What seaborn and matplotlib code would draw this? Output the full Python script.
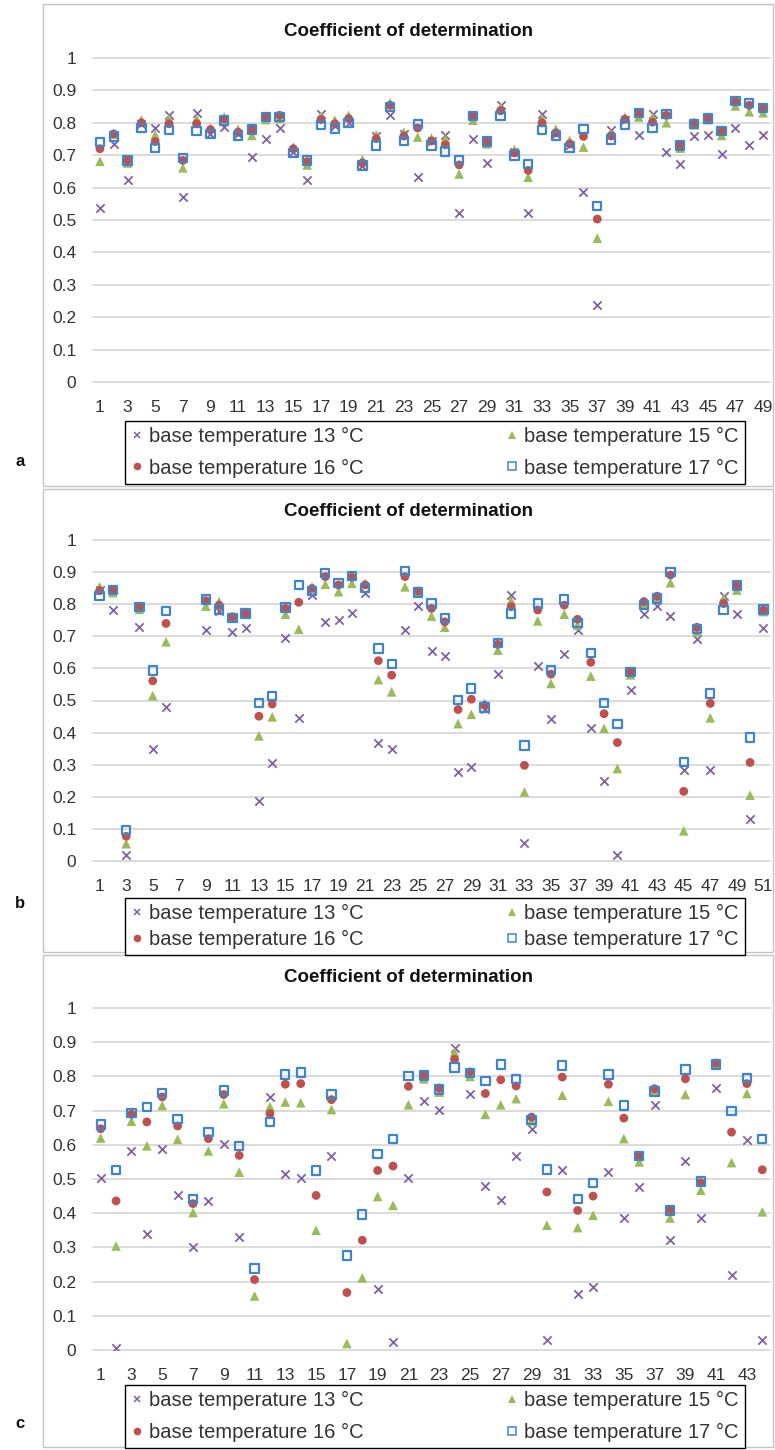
import numpy as np
import pandas as pd
import matplotlib
matplotlib.use("Agg")
import matplotlib.pyplot as plt
import seaborn as sns
from matplotlib.patches import Rectangle
from matplotlib.lines import Line2D
from matplotlib.markers import MarkerStyle

nan = np.nan

# ---------------- data (coefficient of determination) ----------------
series_labels = ["base temperature 13 °C", "base temperature 15 °C",
                 "base temperature 16 °C", "base temperature 17 °C"]

# panel a (49 categories)
a_bt13 = [0.537, 0.735, 0.623, 0.795, 0.785, 0.823, 0.572, 0.831, 0.765, 0.787,
          0.766, 0.694, 0.749, 0.784, 0.710, 0.625, 0.828, 0.790, 0.800, 0.668,
          0.759, 0.823, 0.765, 0.632, 0.745, 0.763, 0.523, 0.751, 0.676, 0.856,
          0.710, 0.521, 0.828, 0.765, 0.730, 0.585, 0.239, 0.777, 0.810, 0.761,
          0.828, 0.711, 0.673, 0.759, 0.761, 0.704, 0.784, 0.732, 0.761]
a_bt15 = [0.681, 0.765, 0.676, 0.809, 0.763, 0.813, 0.661, 0.813, 0.784, 0.818,
          0.780, 0.761, 0.810, 0.813, 0.725, 0.670, 0.821, 0.808, 0.823, 0.687,
          0.763, 0.862, 0.771, 0.756, 0.753, 0.751, 0.642, 0.808, 0.735, 0.849,
          0.718, 0.632, 0.813, 0.780, 0.746, 0.725, 0.444, 0.766, 0.818, 0.818,
          0.818, 0.800, 0.722, 0.794, 0.810, 0.761, 0.852, 0.834, 0.831]
a_bt16 = [0.720, 0.766, 0.684, 0.800, 0.742, 0.797, 0.684, 0.797, 0.779, 0.811,
          0.771, 0.779, 0.820, 0.823, 0.720, 0.680, 0.810, 0.797, 0.813, 0.676,
          0.751, 0.854, 0.759, 0.784, 0.744, 0.732, 0.670, 0.821, 0.742, 0.837,
          0.707, 0.653, 0.800, 0.769, 0.735, 0.758, 0.503, 0.759, 0.811, 0.830,
          0.802, 0.823, 0.730, 0.800, 0.815, 0.774, 0.865, 0.854, 0.844]
a_bt17 = [0.741, 0.758, 0.684, 0.784, 0.722, 0.778, 0.692, 0.775, 0.766, 0.807,
          0.759, 0.779, 0.818, 0.818, 0.707, 0.684, 0.794, 0.782, 0.800, 0.668,
          0.730, 0.849, 0.744, 0.797, 0.730, 0.711, 0.686, 0.821, 0.742, 0.820,
          0.699, 0.673, 0.777, 0.759, 0.722, 0.780, 0.544, 0.748, 0.795, 0.831,
          0.784, 0.828, 0.730, 0.797, 0.813, 0.774, 0.867, 0.862, 0.846]

# panel b (51 categories, 7 and 8 without values)
b_bt13 = [0.845, 0.782, 0.018, 0.730, 0.348, 0.480, nan, nan, 0.721, 0.780,
          0.714, 0.725, 0.186, 0.304, 0.695, 0.446, 0.828, 0.745, 0.751, 0.774,
          0.834, 0.368, 0.350, 0.719, 0.795, 0.654, 0.639, 0.278, 0.293, 0.475,
          0.584, 0.828, 0.056, 0.608, 0.441, 0.644, 0.719, 0.415, 0.249, 0.018,
          0.534, 0.771, 0.794, 0.763, 0.285, 0.693, 0.283, 0.826, 0.768, 0.132,
          0.725]
b_bt15 = [0.854, 0.836, 0.054, 0.784, 0.515, 0.683, nan, nan, 0.794, 0.808,
          0.760, 0.770, 0.390, 0.449, 0.769, 0.722, 0.854, 0.862, 0.839, 0.865,
          0.865, 0.565, 0.527, 0.854, 0.839, 0.763, 0.728, 0.428, 0.457, 0.491,
          0.657, 0.811, 0.215, 0.748, 0.553, 0.769, 0.735, 0.576, 0.413, 0.288,
          0.580, 0.800, 0.815, 0.867, 0.094, 0.714, 0.446, 0.818, 0.844, 0.205,
          0.777]
b_bt16 = [0.842, 0.844, 0.077, 0.792, 0.561, 0.740, nan, nan, 0.811, 0.797,
          0.761, 0.771, 0.451, 0.489, 0.787, 0.806, 0.849, 0.886, 0.860, 0.884,
          0.860, 0.624, 0.579, 0.886, 0.841, 0.787, 0.745, 0.472, 0.504, 0.485,
          0.675, 0.792, 0.298, 0.782, 0.582, 0.797, 0.753, 0.619, 0.459, 0.369,
          0.589, 0.808, 0.825, 0.891, 0.217, 0.728, 0.491, 0.802, 0.858, 0.307,
          0.782]
b_bt17 = [0.825, 0.844, 0.096, 0.792, 0.593, 0.779, nan, nan, 0.815, 0.784,
          0.758, 0.771, 0.493, 0.515, 0.790, 0.860, 0.841, 0.898, 0.867, 0.888,
          0.851, 0.662, 0.613, 0.903, 0.836, 0.802, 0.758, 0.501, 0.537, 0.478,
          0.680, 0.771, 0.360, 0.802, 0.595, 0.815, 0.742, 0.647, 0.493, 0.426,
          0.589, 0.797, 0.818, 0.901, 0.309, 0.722, 0.522, 0.782, 0.858, 0.385,
          0.784]

# panel c (44 categories)
c_bt13 = [0.503, 0.007, 0.583, 0.340, 0.589, 0.452, 0.301, 0.435, 0.601, 0.330,
          nan, 0.740, 0.516, 0.503, nan, 0.567, nan, nan, 0.179, 0.023,
          0.504, 0.727, 0.703, 0.883, 0.750, 0.479, 0.440, 0.567, 0.647, 0.028,
          0.525, 0.165, 0.184, 0.520, 0.386, 0.477, 0.715, 0.323, 0.552, 0.386,
          0.766, 0.218, 0.615, 0.028]
c_bt15 = [0.620, 0.304, 0.669, 0.597, 0.715, 0.616, 0.402, 0.582, 0.720, 0.520,
          0.158, 0.712, 0.725, 0.723, 0.350, 0.703, 0.019, 0.211, 0.449, 0.423,
          0.717, 0.793, 0.754, 0.871, 0.800, 0.689, 0.717, 0.735, 0.670, 0.365,
          0.745, 0.358, 0.394, 0.727, 0.618, 0.550, 0.760, 0.386, 0.747, 0.467,
          0.835, 0.548, 0.750, 0.404]
c_bt16 = [0.647, 0.436, 0.689, 0.667, 0.740, 0.655, 0.428, 0.618, 0.747, 0.569,
          0.206, 0.691, 0.777, 0.779, 0.452, 0.732, 0.168, 0.321, 0.525, 0.538,
          0.771, 0.803, 0.766, 0.850, 0.813, 0.750, 0.790, 0.772, 0.681, 0.462,
          0.798, 0.408, 0.450, 0.777, 0.678, 0.567, 0.764, 0.408, 0.793, 0.489,
          0.839, 0.637, 0.779, 0.527]
c_bt17 = [0.659, 0.527, 0.693, 0.711, 0.752, 0.676, 0.441, 0.637, 0.759, 0.597,
          0.238, 0.667, 0.806, 0.811, 0.525, 0.747, 0.276, 0.396, 0.574, 0.616,
          0.801, 0.803, 0.762, 0.826, 0.810, 0.787, 0.835, 0.793, 0.673, 0.528,
          0.832, 0.442, 0.488, 0.806, 0.715, 0.567, 0.756, 0.408, 0.820, 0.493,
          0.835, 0.698, 0.795, 0.616]

y_ticks = [0, 0.1, 0.2, 0.3, 0.4, 0.5, 0.6, 0.7, 0.8, 0.9, 1]
y_tick_labels = ["0", "0.1", "0.2", "0.3", "0.4", "0.5", "0.6", "0.7", "0.8", "0.9", "1"]
title_text = "Coefficient of determination"

# ---------------- style ----------------
sns.set_theme(style="white")
plt.rcParams["font.family"] = ["Liberation Sans", "DejaVu Sans"]

C13, C15, C16, C17 = "#7d62a8", "#9bbb59", "#c0504d", "#3b86cf"
TXT = "#333333"
FS = 12.5
LEG_FS = 14.5

W, H = 775, 1450
fig = plt.figure(figsize=(W / 100, H / 100), dpi=100)


def fx(x):
    return x / W


def fy(y):
    return 1 - y / H


panels = [
    dict(label="a", data=(a_bt13, a_bt15, a_bt16, a_bt17),
         box=(43, 4, 773, 486), plot=(93, 58, 770, 382), title_y=32,
         leg_top=421, lab_y=462, lsp=0.62),
    dict(label="b", data=(b_bt13, b_bt15, b_bt16, b_bt17),
         box=(43, 489, 773, 952), plot=(93, 540, 770, 861), title_y=512,
         leg_top=898, lab_y=903, lsp=0.36),
    dict(label="c", data=(c_bt13, c_bt15, c_bt16, c_bt17),
         box=(43, 955, 773, 1447), plot=(93, 1008, 770, 1350), title_y=977,
         leg_top=1385, lab_y=1423, lsp=0.65),
]

sq_marker = MarkerStyle("s", fillstyle="none")

for p in panels:
    bx0, by0, bx1, by1 = p["box"]
    fig.add_artist(Rectangle((fx(bx0), fy(by1)), (bx1 - bx0) / W, (by1 - by0) / H,
                             transform=fig.transFigure, fill=False,
                             edgecolor="#c4c4c4", linewidth=1.0))
    x0, y0, x1, y1 = p["plot"]
    ax = fig.add_axes([fx(x0), fy(y1), (x1 - x0) / W, (y1 - y0) / H])
    s13, s15, s16, s17 = p["data"]
    n = len(s13)
    pos = np.arange(1, n + 1)
    df = pd.DataFrame({"pos": pos, "bt13": s13, "bt15": s15, "bt16": s16, "bt17": s17})

    sns.scatterplot(data=df, x="pos", y="bt13", marker="x", color=C13, s=36,
                    linewidth=1.3, ax=ax, zorder=3)
    sns.scatterplot(data=df, x="pos", y="bt15", marker="^", color=C15, s=48,
                    edgecolor="none", ax=ax, zorder=4)
    sns.scatterplot(data=df, x="pos", y="bt16", marker="o", color=C16, s=40,
                    edgecolor="none", ax=ax, zorder=5)
    sns.scatterplot(data=df, x="pos", y="bt17", marker=sq_marker, color=C17, s=36,
                    linewidth=1.6, ax=ax, zorder=6)

    ax.set_xlim(0.5, n + 0.5)
    ax.set_ylim(0, 1)
    ax.set_yticks(y_ticks)
    ax.set_yticklabels(y_tick_labels)
    xt = list(range(1, n + 1, 2))
    ax.set_xticks(xt)
    ax.set_xticklabels([str(v) for v in xt])
    ax.set_xlabel("")
    ax.set_ylabel("")
    for sp in ax.spines.values():
        sp.set_visible(False)
    ax.yaxis.grid(True, color="#d9d9d9", linewidth=1.3)
    ax.xaxis.grid(False)
    for gl in ax.get_ygridlines():
        gl.set_clip_on(False)
    ax.set_axisbelow(True)
    ax.tick_params(axis="both", length=0, labelsize=FS, colors=TXT)
    ax.tick_params(axis="x", pad=13)
    ax.tick_params(axis="y", pad=12)
    ax.patch.set_alpha(0)

    fig.text(fx((bx0 + bx1) / 2), fy(p["title_y"]), title_text, ha="center",
             va="center", fontsize=13.5, fontweight="bold", color="#111111")
    fig.text(fx(15), fy(p["lab_y"]), p["label"], ha="left", va="center",
             fontsize=12, fontweight="bold", color="#111111")

    handles = [
        Line2D([], [], linestyle="none", marker="x", color=C13, markersize=5,
               markeredgewidth=1.1),
        Line2D([], [], linestyle="none", marker="^", color=C15, markersize=6,
               markeredgewidth=0),
        Line2D([], [], linestyle="none", marker="o", color=C16, markersize=5.5,
               markeredgewidth=0),
        Line2D([], [], linestyle="none", marker="s", color=C17, markersize=5.5,
               markerfacecolor="none", markeredgewidth=1.1),
    ]
    # column-major order for 2 columns: 13, 16 | 15, 17
    order = [0, 2, 1, 3]
    leg = fig.legend([handles[i] for i in order], [series_labels[i] for i in order],
                     ncol=2, loc="upper left",
                     bbox_to_anchor=(fx(125), fy(p["leg_top"]), (745 - 125) / W, 0.0001),
                     mode="expand", frameon=True, fancybox=False, framealpha=1,
                     edgecolor="black", fontsize=LEG_FS, handlelength=0.6,
                     handletextpad=0.3, borderpad=0.3, labelspacing=p["lsp"],
                     borderaxespad=0.0, columnspacing=1.0)
    leg.get_frame().set_linewidth(1.0)
    for t in leg.get_texts():
        t.set_color(TXT)

fig.savefig("out.png", dpi=100)
